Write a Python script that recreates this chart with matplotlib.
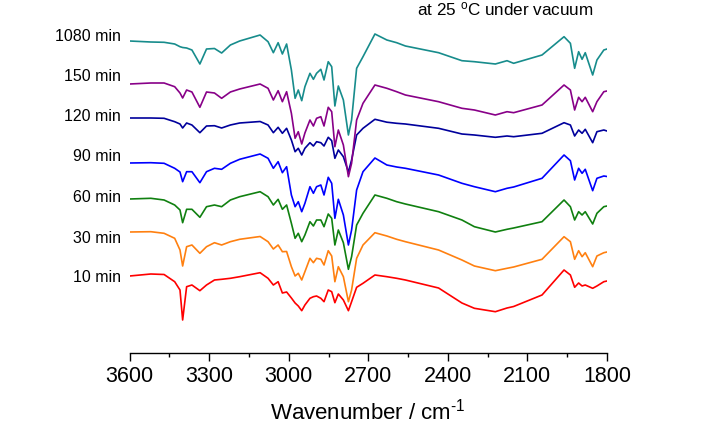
import matplotlib
matplotlib.use("Agg")
import matplotlib.pyplot as plt
from matplotlib.ticker import MultipleLocator
import matplotlib.transforms as mtransforms

plt.rcParams['font.family'] = ['Liberation Sans', 'DejaVu Sans']
plt.rcParams['mathtext.fontset'] = 'custom'
plt.rcParams['mathtext.rm'] = 'Liberation Sans'
plt.rcParams['mathtext.it'] = 'Liberation Sans:italic'
plt.rcParams['mathtext.default'] = 'regular'

# ---------------- data ----------------
wavenumber = [3600, 3520, 3470, 3430, 3410, 3400, 3385, 3365, 3335, 3310, 3280, 3253,
              3220, 3185, 3108, 3078, 3058, 3040, 3024, 3008, 2990, 2976, 2964, 2951,
              2939, 2920, 2907, 2895, 2879, 2867, 2851, 2838, 2826, 2813, 2794, 2775,
              2763, 2744, 2720, 2675, 2630, 2593, 2560, 2435, 2347, 2300, 2221, 2177,
              2152, 2045, 1962, 1938, 1922, 1907, 1894, 1882, 1854, 1838, 1812, 1800]

labels = ["1080 min", "150 min", "120 min", "90 min", "60 min", "30 min", "10 min"]
colors = ["#178c8c", "#880088", "#00009c", "#0000ff", "#108010", "#ff8010", "#ff0000"]

t1080 = [0.0, -0.1, -0.13, -0.3, -0.57, -0.65, -0.7, -0.9, -2.3, -0.8, -0.75, -1.2,
         -0.4, 0.0, 0.6, -0.07, -1.17, -0.17, -1.3, -0.3, -2.9, -5.73, -4.9, -5.97,
         -4.57, -3.23, -3.83, -3.23, -2.83, -3.9, -2.07, -2.57, -6.5, -4.5, -5.9, -9.4,
         -7.9, -2.73, -1.57, 0.7, 0.1, -0.17, -0.5, -1.17, -1.97, -2.07, -2.3, -1.97,
         -2.23, -1.4, 0.43, -0.23, -2.73, -1.07, -1.83, -1.17, -3.4, -1.9, -0.9, -0.8]
t150 = [0.0, 0.1, 0.1, -0.27, -0.9, -1.4, -0.6, -0.8, -2.33, -0.8, -0.9, -1.43,
        -0.8, -0.5, 0.0, -0.43, -1.6, -0.67, -1.77, -0.77, -2.93, -5.43, -4.77, -6.0,
        -4.9, -3.6, -4.2, -3.43, -3.27, -4.2, -2.33, -2.77, -6.27, -4.6, -6.1, -9.27,
        -7.93, -3.6, -1.93, -0.1, -0.43, -0.77, -1.1, -1.77, -2.43, -2.6, -3.1, -2.77,
        -2.87, -2.1, -0.1, -0.6, -2.6, -1.33, -1.77, -1.33, -2.77, -1.77, -0.77, -0.7]
t120 = [0.0, 0.0, -0.03, -0.37, -0.6, -1.0, -0.5, -0.7, -1.47, -0.8, -0.77, -1.0,
        -0.7, -0.5, -0.35, -0.7, -1.47, -0.93, -1.53, -1.03, -2.2, -3.37, -3.03, -3.7,
        -3.03, -2.47, -2.8, -2.37, -2.47, -2.8, -1.93, -2.27, -4.03, -3.2, -3.87, -5.4,
        -4.2, -1.7, -1.03, -0.13, -0.42, -0.53, -0.6, -1.03, -1.6, -1.7, -1.93, -1.8,
        -1.87, -1.53, -0.47, -0.7, -1.8, -1.2, -1.53, -1.13, -2.47, -1.37, -1.2, -1.3]
t90 = [0.0, 0.03, -0.03, -0.53, -0.9, -1.87, -0.87, -0.87, -1.97, -0.87, -0.53, -0.63,
       -0.03, 0.37, 0.9, 0.47, -0.53, 0.13, -0.97, -0.37, -3.2, -4.37, -3.87, -4.87,
       -4.03, -2.37, -3.03, -2.37, -2.2, -3.2, -1.43, -2.03, -5.53, -3.63, -5.2, -8.2,
       -6.7, -2.7, -0.87, 0.5, -0.2, -0.4, -0.53, -1.2, -2.03, -2.37, -2.87, -2.53,
       -2.4, -1.53, 0.8, 0.23, -1.7, -0.53, -1.03, -0.63, -2.77, -1.53, -1.3, -1.35]
t60 = [0.0, 0.07, -0.1, -0.6, -1.1, -2.37, -1.03, -1.03, -1.83, -0.77, -0.6, -0.77,
       -0.1, 0.23, 0.73, 0.23, -0.6, -0.03, -1.03, -0.6, -2.43, -3.93, -3.43, -4.27,
       -3.6, -2.27, -2.7, -2.1, -2.1, -2.77, -1.5, -1.93, -4.6, -3.1, -4.37, -7.03,
       -5.77, -2.6, -1.43, 0.4, 0.07, -0.27, -0.5, -1.27, -2.1, -2.77, -3.3, -3.03,
       -2.9, -2.27, -0.1, -0.77, -2.1, -1.27, -1.6, -1.27, -2.5, -1.43, -0.77, -0.7]
t30 = [0.0, 0.03, -0.13, -0.63, -1.8, -3.4, -1.47, -1.3, -2.13, -1.47, -1.07, -1.3,
       -0.97, -0.73, -0.45, -0.97, -1.7, -1.3, -1.97, -1.95, -3.47, -4.4, -4.13, -4.8,
       -3.97, -2.63, -3.07, -2.63, -2.73, -3.3, -1.87, -2.4, -4.97, -3.47, -4.47, -6.97,
       -5.8, -2.63, -1.3, -0.07, -0.4, -0.73, -0.97, -1.8, -2.8, -3.4, -3.87, -3.63,
       -3.5, -2.73, -0.47, -0.97, -2.73, -1.87, -2.47, -2.07, -3.47, -2.4, -2.07, -2.0]
t10 = [0.0, 0.2, 0.15, -0.57, -1.4, -4.4, -1.07, -0.9, -1.47, -0.9, -0.4, -0.33,
       -0.23, -0.07, 0.33, -0.23, -0.9, -0.57, -1.7, -1.6, -2.2, -2.7, -3.0, -3.47,
       -2.9, -2.23, -2.07, -2.0, -2.23, -2.57, -1.4, -1.57, -2.67, -1.8, -2.4, -3.47,
       -2.57, -1.13, -0.73, 0.1, -0.07, -0.23, -0.4, -1.2, -2.7, -3.23, -3.57, -3.2,
       -3.05, -1.9, 0.6, 0.1, -1.13, -0.7, -1.0, -0.9, -1.23, -1.0, -0.57, -0.5]

series = [t1080, t150, t120, t90, t60, t30, t10]
offsets = [31.2, 26.9, 23.5, 19.0, 15.4, 12.1, 7.7]
label_y = [31.6, 27.6, 23.6, 19.6, 15.5, 11.45, 7.5]

xticks = [3600, 3300, 3000, 2700, 2400, 2100, 1800]

# ---------------- figure ----------------
fig = plt.figure(figsize=(7.24, 4.34), dpi=100)
ax = fig.add_axes([129.6 / 724, (434 - 353) / 434, (607 - 129.6) / 724, 353 / 434])

for vals, off, col in reversed(list(zip(series, offsets, colors))):
    ax.plot(wavenumber, [v + off for v in vals], color=col, lw=1.2)

trans = mtransforms.blended_transform_factory(fig.transFigure, ax.transData)
for lab, ly in zip(labels, label_y):
    ax.text(121 / 724, ly, lab, transform=trans, ha='right', va='center',
            fontsize=11.5, clip_on=False)

ax.set_xlim(3600, 1800)
ax.set_ylim(0, 35.3)
ax.set_xticks(xticks)
ax.set_xticklabels([str(t) for t in xticks])
ax.xaxis.set_minor_locator(MultipleLocator(150))
ax.set_yticks([])
for s in ['top', 'right', 'left']:
    ax.spines[s].set_visible(False)
ax.spines['bottom'].set_linewidth(1.0)
ax.tick_params(axis='x', which='major', direction='out', length=5.5, width=1.0,
               labelsize=15.5, pad=4)
ax.tick_params(axis='x', which='minor', direction='out', length=3, width=1.0)
ax.set_xlabel(r"Wavenumber / cm$^{\text{-}1}$", fontsize=16, labelpad=8)

fig.text(417 / 724, 1 - 15 / 434, "at 25 $^{o}$C under vacuum", fontsize=12.3,
         ha='left', va='baseline')

fig.savefig("out.png", dpi=100)
